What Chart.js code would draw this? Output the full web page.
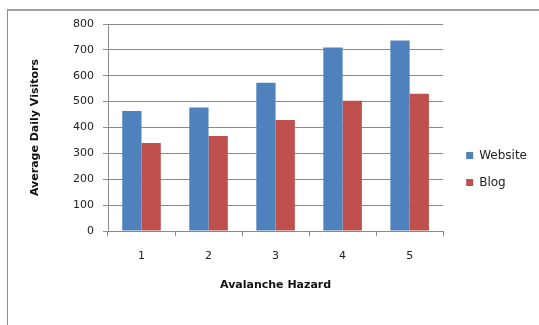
<!DOCTYPE html>
<html>
<head>
<meta charset="utf-8">
<script src="https://cdn.jsdelivr.net/npm/chart.js@4/dist/chart.umd.min.js"></script>
<style>
  html, body { margin: 0; padding: 0; background: #fff; }
  #wrap { position: relative; width: 539px; height: 325px; overflow: hidden; }
  #frame { position: absolute; left: 7px; top: 9px; width: 600px; height: 400px;
           border-left: 1px solid #8c8c8c; border-top: 2px solid #a0a0a0; }
  canvas { position: absolute; left: 0; top: 0; }
</style>
</head>
<body>
<div id="wrap">
  <div id="frame"></div>
  <canvas id="myChart" width="539" height="325"></canvas>
</div>
<script>
let hazard = ['1', '2', '3', '4', '5'];
let website = [464, 477, 573, 709, 736];
let blog = [340, 367, 429, 503, 530];
let yTicks = [0, 100, 200, 300, 400, 500, 600, 700, 800];

const FONT = "'DejaVu Sans', sans-serif";
const gridGray = '#8a8a8a';

const ctx = document.getElementById('myChart');

new Chart(ctx, {
  type: 'bar',
  data: {
    labels: hazard,
    datasets: [{
      label: 'Website',
      data: website,
      backgroundColor: '#4f81bd',
      categoryPercentage: 0.575,
      barPercentage: 1
    }, {
      label: 'Blog',
      data: blog,
      backgroundColor: '#c0504d',
      categoryPercentage: 0.575,
      barPercentage: 1
    }]
  },
  options: {
    responsive: false,
    animation: false,
    layout: {
      padding: { top: 24, left: 0, right: 2, bottom: 11 }
    },
    plugins: {
      tooltip: { enabled: false },
      legend: {
        position: 'right',
        labels: {
          boxWidth: 7,
          boxHeight: 7,
          padding: 15,
          color: '#222',
          font: { family: FONT, size: 12 }
        }
      }
    },
    scales: {
      x: {
        afterFit: (s) => { s.height = 83; },
        grid: {
          offset: true,
          drawOnChartArea: false,
          drawTicks: true,
          tickLength: 5,
          color: gridGray
        },
        border: { color: gridGray },
        ticks: { padding: 14, color: '#222', font: { family: FONT, size: 11 } },
        title: {
          display: true,
          text: 'Avalanche Hazard',
          color: '#111',
          font: { family: FONT, size: 11, weight: 'bold' },
          padding: { top: 0, bottom: 22 }
        }
      },
      y: {
        min: 0,
        max: 800,
        afterFit: (s) => { s.width = 108; },
        afterBuildTicks: (s) => { s.ticks = yTicks.map(v => ({ value: v })); },
        grid: { color: gridGray, tickLength: 5 },
        border: { color: gridGray },
        ticks: { padding: 9, color: '#222', font: { family: FONT, size: 11 } },
        title: {
          display: true,
          text: 'Average Daily Visitors',
          color: '#111',
          font: { family: FONT, size: 11, weight: 'bold' },
          padding: { top: 29, bottom: 0 }
        }
      },
      gap: {
        position: 'right',
        display: true,
        afterFit: (s) => { s.width = 8; },
        grid: { display: false },
        border: { display: false },
        ticks: { display: false }
      }
    }
  }
});
</script>
</body>
</html>
